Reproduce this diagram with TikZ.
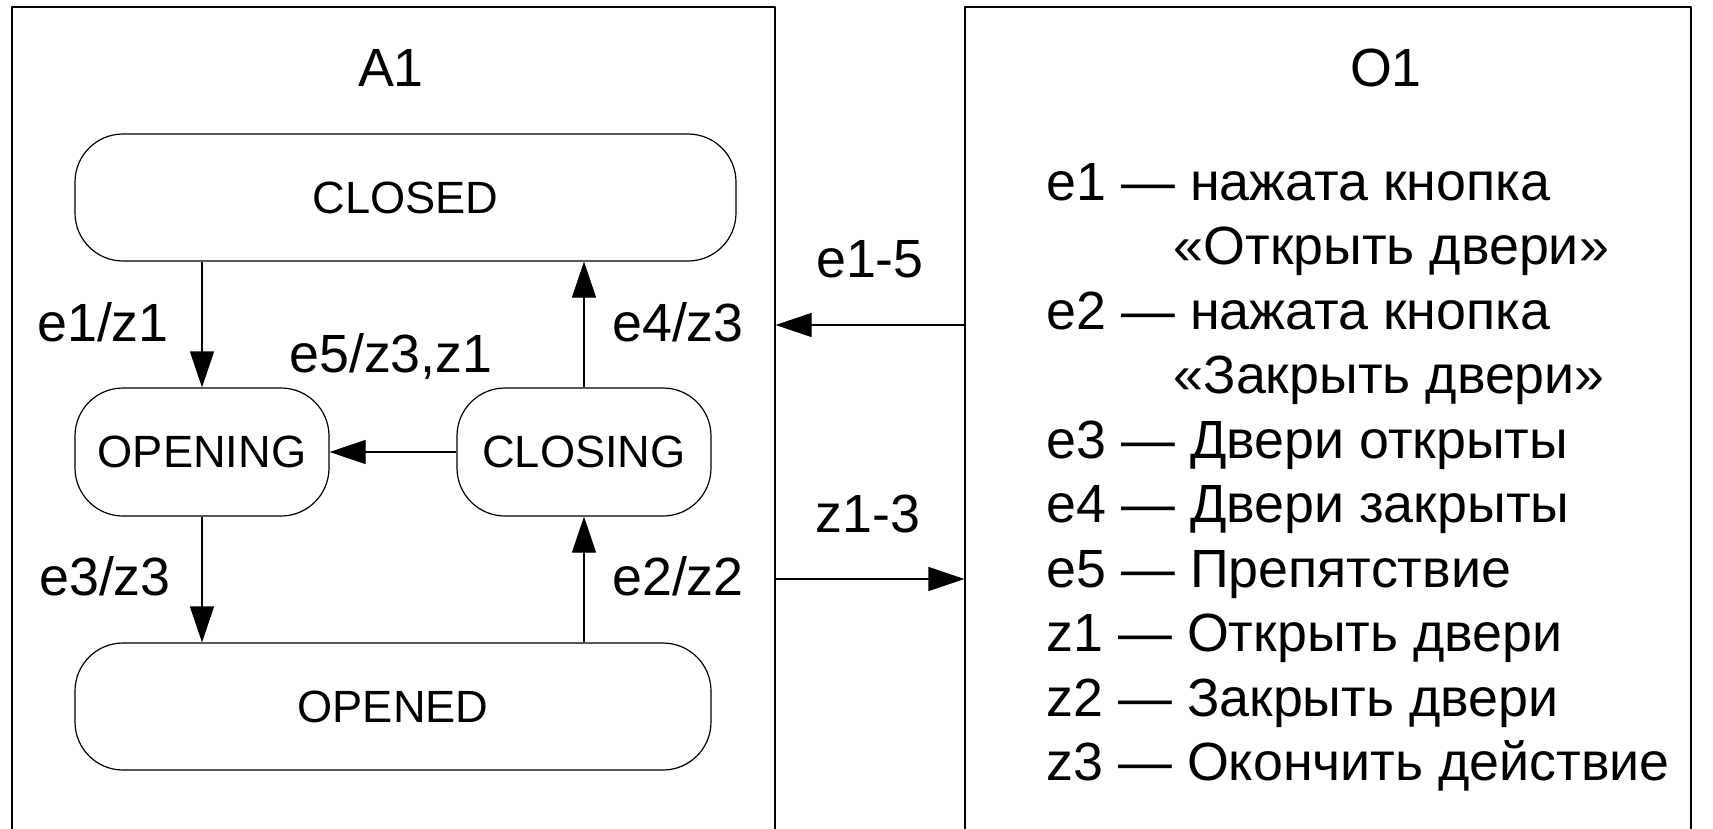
\documentclass[tikz,border=0pt]{standalone}
\usepackage{fontspec}
\setmainfont{Liberation Sans}
\usetikzlibrary{arrows.meta}
\tikzset{
  state/.style={draw,rectangle,rounded corners=24pt,inner sep=0pt,font=\fontsize{22.6}{27}\selectfont},
  lbl/.style={inner sep=0pt,anchor=base,font=\fontsize{26.9}{32}\selectfont},
}
\begin{document}
\begin{tikzpicture}[>={Triangle[length=18pt,width=12pt]},line join=bevel,line width=0.6pt,x=0.5pt,y=-0.5pt]
    \clip (0,0) rectangle (1713,829);
    %%
    \node (A1) at (393.5,428) [draw,rectangle,minimum width=381.5pt,minimum height=421pt] {};
    \node (O1) at (1328,428) [draw,rectangle,minimum width=363pt,minimum height=421pt] {};
    \node (A1title) at (391,87) [lbl] {A1};
    \node (O1title) at (1386,87) [lbl] {O1};
    %%
    \node (closed) at (405.5,197.5) [state,minimum width=330.5pt,minimum height=63.5pt] {CLOSED};
    \node (opening) at (202,452) [state,minimum width=127pt,minimum height=64pt] {OPENING};
    \node (closing) at (584,452) [state,minimum width=127pt,minimum height=64pt] {CLOSING};
    \node (opened) at (393,706.5) [state,minimum width=318pt,minimum height=63.5pt] {OPENED};
    %%
    \draw [->] (closed.south -| opening.north) -- (opening.north);
    \draw [->] (opening.south) -- (opening.south |- opened.north);
    \draw [->] (closing.south |- opened.north) -- (closing.south);
    \draw [->] (closing.north) -- (closing.north |- closed.south);
    \draw [->] (closing.west) -- (opening.east);
    %%
    \node (t1) at (103,341) [lbl] {e1/z1};
    \node (t5) at (391,372) [lbl] {e5/z3,z1};
    \node (t4) at (678,341) [lbl] {e4/z3};
    \node (t3) at (105,595) [lbl] {e3/z3};
    \node (t2) at (678,595) [lbl] {e2/z2};
    %%
    \node (evlbl) at (870,277) [lbl] {e1-5};
    \node (zlbl) at (868,532) [lbl] {z1-3};
    \coordinate (ein) at (870,325);
    \coordinate (zout) at (870,579);
    \draw [->] (O1.west |- ein) -- (A1.east |- ein);
    \draw [->] (A1.east |- zout) -- (O1.west |- zout);
    %%
    \foreach \x/\y/\txt [count=\i] in {
        1046/200/{e1 — нажата кнопка},
        1173/264.5/{«Открыть двери»},
        1046/329/{e2 — нажата кнопка},
        1173/393.5/{«Закрыть двери»},
        1046/458/{e3 — Двери открыты},
        1046/522.5/{e4 — Двери закрыты},
        1046/587/{e5 — Препятствие},
        1046/651.5/{z1 — Открыть двери},
        1046/716/{z2 — Закрыть двери},
        1046/780.5/{z3 — Окончить действие}}
      \node (item\i) at (\x,\y) [lbl,anchor=base west] {\txt};
    %
\end{tikzpicture}
\end{document}
